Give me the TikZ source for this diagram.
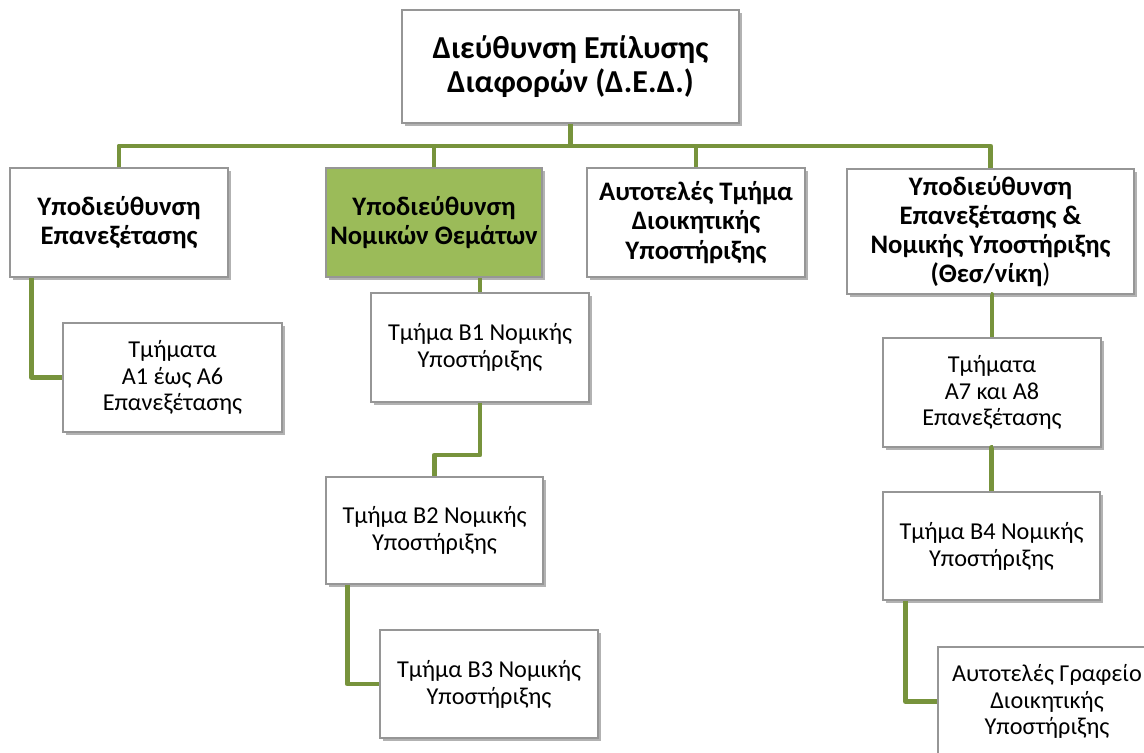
\documentclass[tikz,border=0pt]{standalone}
\usepackage{fontspec}
\setmainfont{Carlito}
\usetikzlibrary{shadows}
\definecolor{conncol}{RGB}{119,147,60}
\definecolor{greenfill}{RGB}{155,187,89}
\definecolor{boxline}{RGB}{150,150,150}
\tikzset{
  box/.style={draw=boxline, line width=0.6pt, fill=white, rectangle, inner sep=0pt, align=center,
    drop shadow={shadow xshift=1.6pt, shadow yshift=-1.6pt, opacity=0.3, fill=black}},
  headtxt/.style={font=\fontsize{15.2}{16.6}\selectfont\bfseries},
  normtxt/.style={font=\fontsize{13.8}{15.3}\selectfont},
  conn/.style={draw=conncol, line width=2.8pt, line join=round}
}
\begin{document}
\begin{tikzpicture}[x=0.02cm, y=-0.02cm]
\useasboundingbox (0,0) rectangle (1144,752);
\coordinate (bus) at (0,146);
\coordinate (b12) at (0,455);
% boxes
\node[box, minimum width=337*0.02cm, minimum height=113*0.02cm, font=\fontsize{18.2}{19.5}\selectfont\bfseries] (top) at (570.5,66.5) {Διεύθυνση Επίλυσης\\Διαφορών (Δ.Ε.Δ.)};
\node[box, headtxt, minimum width=218*0.02cm, minimum height=109*0.02cm] (A) at (119,222.5) {Υποδιεύθυνση\\Επανεξέτασης};
\node[box, headtxt, fill=greenfill, minimum width=216*0.02cm, minimum height=109*0.02cm] (B) at (434,222.5) {Υποδιεύθυνση\\Νομικών Θεμάτων};
\node[box, headtxt, minimum width=218*0.02cm, minimum height=109*0.02cm] (C) at (696,222.5) {Αυτοτελές Τμήμα\\Διοικητικής\\Υποστήριξης};
\node[box, headtxt, minimum width=287*0.02cm, minimum height=125*0.02cm] (D) at (990.5,231.5) {Υποδιεύθυνση\\Επανεξέτασης \&\\Νομικής Υποστήριξης\\(Θεσ/νίκη{\mdseries )}};
\node[box, normtxt, minimum width=219*0.02cm, minimum height=109*0.02cm] (A16) at (172.5,377.5) {Τμήματα\\Α1 έως Α6\\Επανεξέτασης};
\node[box, normtxt, minimum width=218*0.02cm, minimum height=109*0.02cm] (B1) at (480,347.5) {Τμήμα Β1 Νομικής\\Υποστήριξης};
\node[box, normtxt, minimum width=217*0.02cm, minimum height=107*0.02cm] (B2) at (434.5,530.5) {Τμήμα Β2 Νομικής\\Υποστήριξης};
\node[box, normtxt, minimum width=218*0.02cm, minimum height=108*0.02cm] (B3) at (489,684) {Τμήμα Β3 Νομικής\\Υποστήριξης};
\node[box, normtxt, minimum width=218*0.02cm, minimum height=109*0.02cm] (A78) at (992,392.5) {Τμήματα\\Α7 και Α8\\Επανεξέτασης};
\node[box, normtxt, minimum width=217*0.02cm, minimum height=108*0.02cm] (B4) at (991.5,546) {Τμήμα Β4 Νομικής\\Υποστήριξης};
\node[box, normtxt, minimum width=218*0.02cm, minimum height=109*0.02cm] (G) at (1047,701.5) {Αυτοτελές Γραφείο\\Διοικητικής\\Υποστήριξης};
% connectors
\draw[conn] (A.north) -- (A.north |- bus) -- (D.north |- bus) -- (D.north);
\draw[conn] (top.south) -- (top.south |- bus);
\draw[conn] (B.north) -- (B.north |- bus);
\draw[conn] (C.north) -- (C.north |- bus);
\draw[conn] ([xshift=22*0.02cm]A.south west) |- (A16.west);
\draw[conn] (B1.north) -- (B1.north |- B.south);
\draw[conn] (B1.south) -- (B1.south |- b12) -| (B2.north);
\draw[conn] ([xshift=22*0.02cm]B2.south west) |- (B3.west);
\draw[conn] (D.south) -- (D.south -| A78.north) -- (A78.north);
\draw[conn] (A78.south) -- (A78.south -| B4.north) -- (B4.north);
\draw[conn] ([xshift=23*0.02cm]B4.south west) |- (G.west);
\end{tikzpicture}
\end{document}
